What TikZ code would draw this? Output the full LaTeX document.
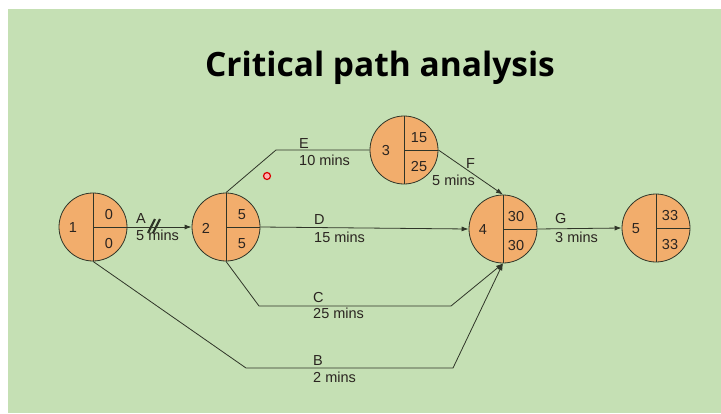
\documentclass[tikz,border=0pt]{standalone}
\usepackage{fontspec}
\setmainfont{Liberation Sans}
\newfontfamily\titlefont{Open Sans}
\usetikzlibrary{arrows.meta,calc}
\definecolor{bggreen}{HTML}{C5E0B4}
\definecolor{nodeorange}{HTML}{F2AD6C}
\definecolor{linecol}{HTML}{2F3528}
\definecolor{txtcol}{HTML}{2A2420}
\tikzset{
  evnode/.style={circle, draw=linecol, fill=nodeorange, line width=0.8pt, minimum size=68pt, inner sep=0pt},
  conn/.style={draw=linecol, line width=0.8pt},
  arr/.style={conn, -{Latex[length=7pt,width=5pt]}},
  lbl/.style={anchor=base west, inner sep=0pt, text=txtcol, font=\fontsize{14.5}{16}\selectfont},
  num/.style={anchor=center, inner sep=0pt, text=txtcol, font=\fontsize{14.5}{16}\selectfont},
}
\newcommand{\evdiv}[1]{\draw[conn] (#1.north) -- (#1.south); \draw[conn] (#1.center) -- (#1.east);}
\begin{document}
\begin{tikzpicture}[x=1pt,y=-1pt]
\useasboundingbox (0,0) rectangle (721,413);
\fill[white] (0,0) rectangle (721,413);
\fill[bggreen] (8,9) rectangle (721,413);
\node[inner sep=0pt, anchor=base, font=\titlefont\bfseries\fontsize{33.5}{38}\selectfont] (title) at (380,76) {Critical path analysis};

% event nodes
\node[evnode] (n1) at (93,227) {};
\node[evnode] (n2) at (226,227) {};
\node[evnode] (n3) at (404,150) {};
\node[evnode] (n4) at (503,229) {};
\node[evnode] (n5) at (656,228) {};
\evdiv{n1}\evdiv{n2}\evdiv{n3}\evdiv{n4}\evdiv{n5}

\node[num] (n1a) at ($(n1.center)+(-20,1)$) {1};
\node[num] (n1b) at ($(n1.center)+(16,-12)$) {0};
\node[num] (n1c) at ($(n1.center)+(16,17)$) {0};
\node[num] (n2a) at ($(n2.center)+(-20,1)$) {2};
\node[num] (n2b) at ($(n2.center)+(16,-12)$) {5};
\node[num] (n2c) at ($(n2.center)+(16,17)$) {5};
\node[num] (n3a) at ($(n3.center)+(-18,1)$) {3};
\node[num] (n3b) at ($(n3.center)+(15,-12)$) {15};
\node[num] (n3c) at ($(n3.center)+(15,17)$) {25};
\node[num] (n4a) at ($(n4.center)+(-20,1)$) {4};
\node[num] (n4b) at ($(n4.center)+(13,-12)$) {30};
\node[num] (n4c) at ($(n4.center)+(13,17)$) {30};
\node[num] (n5a) at ($(n5.center)+(-20,1)$) {5};
\node[num] (n5b) at ($(n5.center)+(14,-12)$) {33};
\node[num] (n5c) at ($(n5.center)+(14,17)$) {33};

% bend points
\coordinate (e1) at (276,150);
\coordinate (c1) at (259,306);
\coordinate (c2) at (451,306);
\coordinate (b1) at (246,368);
\coordinate (b2) at (453,368);

% activities
\draw[arr] (n1.east) -- (n2.west);
\draw[conn] (n2.north) -- (e1) -- (n3.west);
\draw[arr] (n3.east) -- (n4.north);
\draw[arr] (n2.east) -- (n4.west);
\draw[arr] (n2.south) -- (c1) -- (c2) -- (n4.south);
\draw[arr] (n1.south) -- (b1) -- (b2) -- (n4.south);
\draw[arr] (n4.east) -- (n5.west);

% critical marks on A
\draw[linecol, line width=2.2pt] (148,233) -- (155,219);
\draw[linecol, line width=2.2pt] (153,233) -- (160,219);

% labels
\node[lbl] (la) at (136,223) {A};
\node[lbl] (la2) at (136,240) {5 mins};
\node[lbl] (le) at (299,148) {E};
\node[lbl] (le2) at (299,165) {10 mins};
\node[lbl] (lf) at (466,168) {F};
\node[lbl] (lf2) at (432,185) {5 mins};
\node[lbl] (ld) at (314,224) {D};
\node[lbl] (ld2) at (314,242) {15 mins};
\node[lbl] (lc) at (313,302) {C};
\node[lbl] (lc2) at (313,318) {25 mins};
\node[lbl] (lb) at (313,365) {B};
\node[lbl] (lb2) at (313,382) {2 mins};
\node[lbl] (lg) at (555,223) {G};
\node[lbl] (lg2) at (555,242) {3 mins};

% pointer dot
\node[circle, draw=red!85!black, fill=red!30, line width=1.2pt, minimum size=7pt, inner sep=0pt] (dot) at (267,176) {};
\end{tikzpicture}
\end{document}
